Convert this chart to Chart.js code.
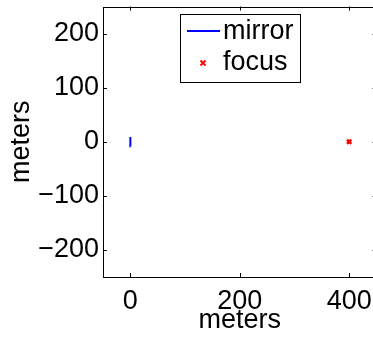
<!DOCTYPE html>
<html>
<head>
<meta charset="utf-8">
<script src="https://cdn.jsdelivr.net/npm/chart.js@4/dist/chart.umd.min.js"></script>
<style>
  html, body { margin: 0; padding: 0; background: #fff; overflow: hidden; width: 373px; height: 341px; }
  canvas { display: block; }
</style>
</head>
<body>
<canvas id="c" width="383" height="341" style="width:383px;height:341px"></canvas>
<script>
// ---- data ----
const seriesLabels = ['mirror', 'focus'];
const mirrorX = [0.05, 0.01, 0, 0.01, 0.05];
const mirrorY = [-9, -4, 0, 4, 9];
const focusX = [400];
const focusY = [0];
const xTicks = [0, 200, 400];
const yTicks = [-200, -100, 0, 100, 200];
const xTitle = 'meters';
const yTitle = 'meters';

const FONT = '"Liberation Sans", Arial, Helvetica, sans-serif';
const FS = 27;

const boxPlugin = {
  id: 'matlabBox',
  afterDatasetsDraw(chart) {
    const ctx = chart.ctx;
    const { left, top, right, bottom } = chart.chartArea;
    const xs = chart.scales.x, ys = chart.scales.y;
    ctx.save();
    ctx.strokeStyle = '#000';
    ctx.lineWidth = 1;
    ctx.strokeRect(Math.round(left) + 0.5, Math.round(top) + 0.5,
                   Math.round(right) - Math.round(left), Math.round(bottom) - Math.round(top));
    const tl = 4;
    ctx.beginPath();
    xTicks.forEach(v => {
      const px = Math.round(xs.getPixelForValue(v)) + 0.5;
      ctx.moveTo(px, bottom); ctx.lineTo(px, bottom - tl);
      ctx.moveTo(px, top); ctx.lineTo(px, top + tl);
    });
    yTicks.forEach(v => {
      const py = Math.round(ys.getPixelForValue(v)) + 0.5;
      ctx.moveTo(left, py); ctx.lineTo(left + tl, py);
      ctx.moveTo(right, py); ctx.lineTo(right - tl, py);
    });
    ctx.stroke();

    // legend box (MATLAB style, north)
    const cx = (left + right) / 2;
    const bw = 120, bh = 68;
    const bx = Math.round(cx - bw / 2), by = Math.round(top + 7);
    ctx.fillStyle = '#fff';
    ctx.fillRect(bx, by, bw, bh);
    ctx.strokeStyle = '#000';
    ctx.lineWidth = 1;
    ctx.strokeRect(bx + 0.5, by + 0.5, bw, bh);
    const ds = chart.data.datasets;
    ctx.font = FS + 'px ' + FONT;
    ctx.textBaseline = 'middle';
    ctx.textAlign = 'left';
    ctx.fillStyle = '#000';
    const rows = [by + 18, by + 49];
    ctx.strokeStyle = ds[0].borderColor;
    ctx.lineWidth = 2;
    ctx.beginPath();
    ctx.moveTo(bx + 7, rows[0] - 1); ctx.lineTo(bx + 40, rows[0] - 1);
    ctx.stroke();
    ctx.fillText(ds[0].label, bx + 43, rows[0]);
    ctx.strokeStyle = ds[1].borderColor;
    ctx.lineWidth = 2;
    const mx = bx + 23, my = rows[1];
    ctx.beginPath();
    ctx.moveTo(mx - 2.5, my - 2.5); ctx.lineTo(mx + 2.5, my + 2.5);
    ctx.moveTo(mx + 2.5, my - 2.5); ctx.lineTo(mx - 2.5, my + 2.5);
    ctx.stroke();
    ctx.fillText(ds[1].label, bx + 43, rows[1]);
    ctx.restore();
  }
};

new Chart(document.getElementById('c'), {
  type: 'scatter',
  data: {
    datasets: [
      {
        label: seriesLabels[0],
        data: mirrorX.map((x, i) => ({ x, y: mirrorY[i] })),
        showLine: true,
        borderColor: '#0000ff',
        backgroundColor: '#0000ff',
        borderWidth: 2,
        pointRadius: 0,
        fill: false
      },
      {
        label: seriesLabels[1],
        data: focusX.map((x, i) => ({ x, y: focusY[i] })),
        showLine: false,
        borderColor: '#ff0000',
        backgroundColor: '#ff0000',
        pointStyle: 'crossRot',
        pointRadius: 3,
        borderWidth: 2.5
      }
    ]
  },
  options: {
    responsive: false,
    animation: false,
    events: [],
    layout: { padding: { top: 6, right: 2.5, left: 0, bottom: 0 } },
    plugins: { legend: { display: false }, tooltip: { enabled: false } },
    scales: {
      x: {
        type: 'linear', min: -50, max: 450,
        afterBuildTicks: s => { s.ticks = xTicks.map(v => ({ value: v })); },
        afterFit: s => { s.height = 64; s.paddingLeft = 0; s.paddingRight = 0; },
        grid: { display: false, drawTicks: false },
        border: { display: false },
        ticks: { color: '#000', font: { family: FONT, size: FS }, padding: 8, maxRotation: 0, autoSkip: false },
        title: { display: true, text: xTitle, color: '#000', font: { family: FONT, size: FS }, padding: { top: 0, bottom: 4 } }
      },
      y: {
        type: 'linear', min: -250, max: 250,
        afterBuildTicks: s => { s.ticks = yTicks.map(v => ({ value: v })); },
        afterFit: s => { s.width = 103; s.paddingTop = 0; s.paddingBottom = 0; },
        grid: { display: false, drawTicks: false },
        border: { display: false },
        ticks: { color: '#000', font: { family: FONT, size: FS }, padding: 4, autoSkip: false,
                 callback: v => (v < 0 ? '\u2212' + Math.abs(v) : String(v)) },
        title: { display: true, text: yTitle, color: '#000', font: { family: FONT, size: FS }, padding: { top: 5, bottom: 0 } }
      }
    }
  },
  plugins: [boxPlugin]
});
</script>
</body>
</html>
